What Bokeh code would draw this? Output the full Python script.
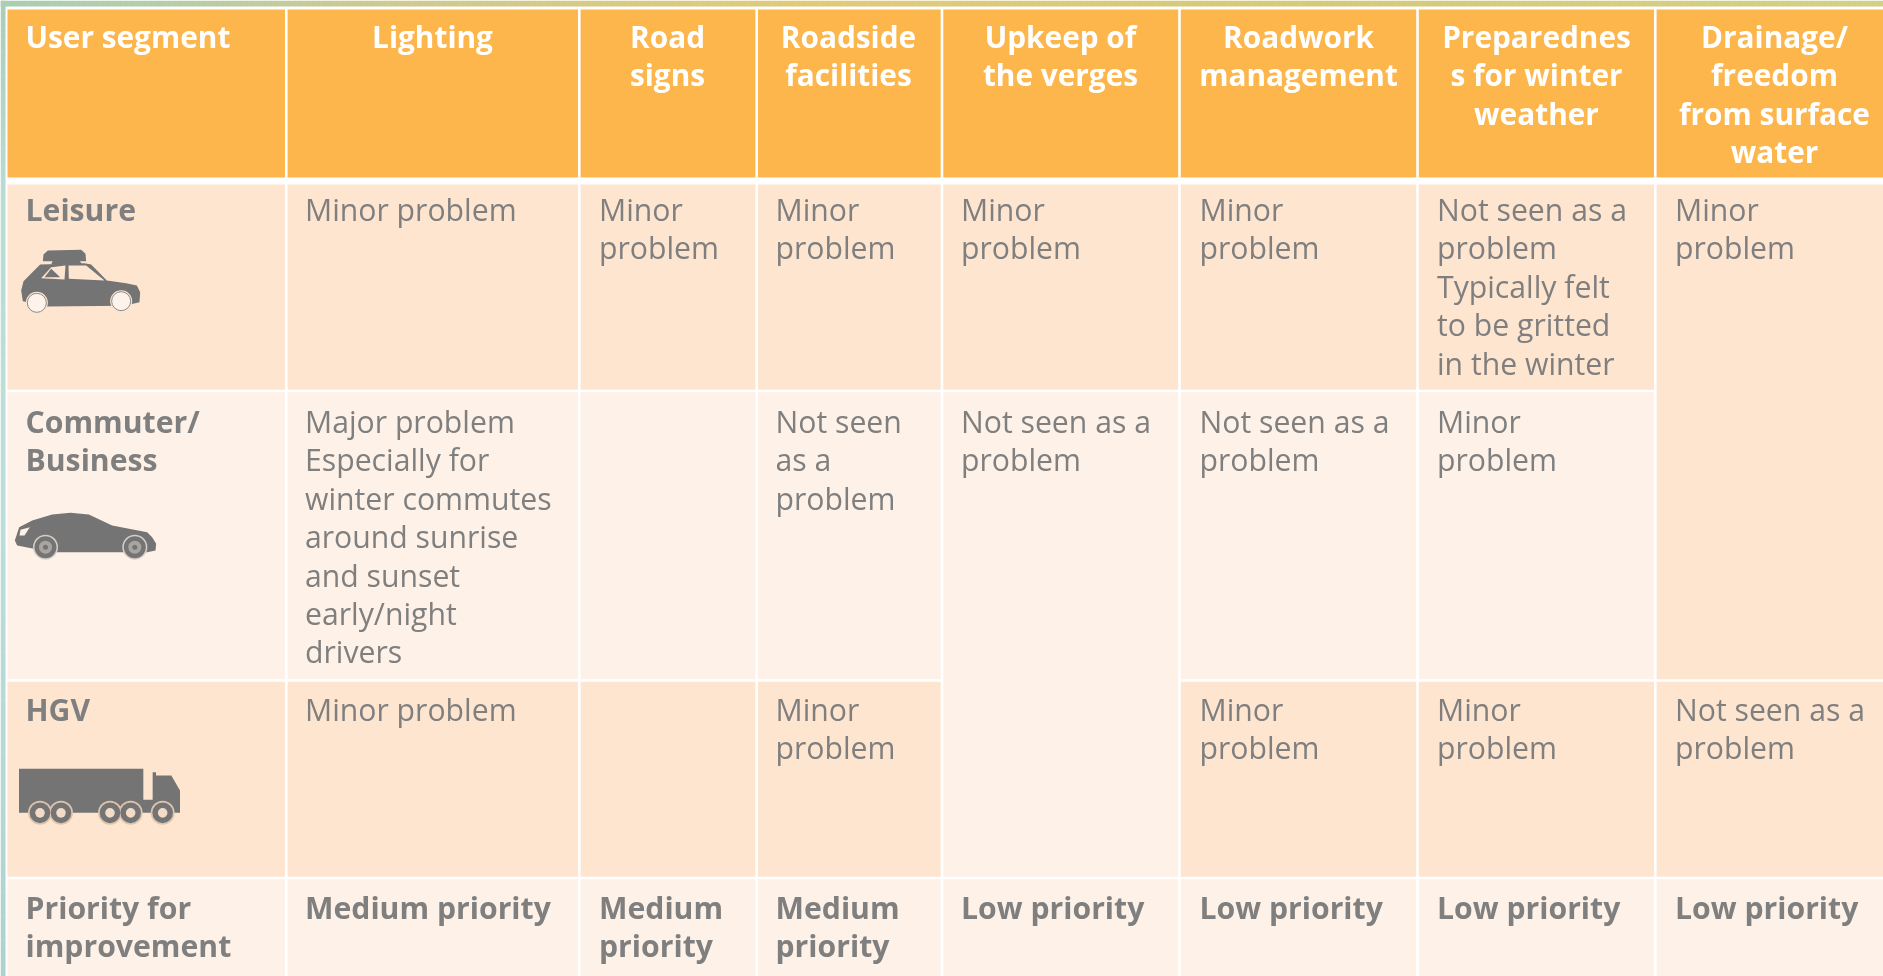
from bokeh.plotting import figure
from bokeh.models import Range1d
from bokeh.core.properties import value
from bokeh.embed import file_html
from bokeh.resources import INLINE
import numpy as np

# ---------- content ----------
headers = ["User segment", "Lighting", "Road\nsigns", "Roadside\nfacilities", "Upkeep of\nthe verges",
           "Roadwork\nmanagement", "Preparednes\ns for winter\nweather", "Drainage/\nfreedom\nfrom surface\nwater"]
segments = ["Leisure", "Commuter/\nBusiness", "HGV", "Priority for\nimprovement"]
lighting = ["Minor problem",
            "Major problem\nEspecially for\nwinter commutes\naround sunrise\nand sunset\nearly/night\ndrivers",
            "Minor problem", "Medium priority"]
road_signs = ["Minor\nproblem", "", "", "Medium\npriority"]
roadside = ["Minor\nproblem", "Not seen\nas a\nproblem", "Minor\nproblem", "Medium\npriority"]
verges = ["Minor\nproblem", "Not seen as a\nproblem", None, "Low priority"]
roadwork = ["Minor\nproblem", "Not seen as a\nproblem", "Minor\nproblem", "Low priority"]
winter = ["Not seen as a\nproblem\nTypically felt\nto be gritted\nin the winter", "Minor\nproblem", "Minor\nproblem", "Low priority"]
drainage = ["Minor\nproblem", None, "Not seen as a\nproblem", "Low priority"]
columns = [segments, lighting, road_signs, roadside, verges, roadwork, winter, drainage]

# ---------- layout (page pixels) ----------
col_edges = [7, 285.8, 578.8, 756.2, 941.5, 1179, 1417, 1654.8, 1883]
row_edges = [184, 390.5, 680, 877.5, 976]
head_top, head_bottom = 9, 177
gap = 2.6
text_x = [25, 304.5, 598.5, 775, 960.5, 1199, 1436.5, 1674.5]
head_centre = [None, 432, 667, 848, 1060, 1298, 1536, 1774]
head_base = 36
row_base = [209, 421, 709, 907]
line_h = 38.4
FONT = "Open Sans"
SIZE_R, SIZE_B, SIZE_H = "30.2px", "30.2px", "29.8px"
ORANGE, DARK, LIGHT, GREY = "#FDB64C", "#FEE5D0", "#FEF1E7", "#7F7F7F"
shades = [DARK, LIGHT, DARK, LIGHT]

p = figure(width=1883, height=976, x_range=Range1d(0, 1883), y_range=Range1d(976, 0),
           output_backend="svg", toolbar_location=None, min_border=0,
           background_fill_color="white", border_fill_color="white")
p.styles = {"position": "fixed", "left": "0px", "top": "0px"}
p.axis.visible = False
p.grid.visible = False
p.outline_line_color = None

# background strips
def strip(stops_pos, stops_rgb, horizontal):
    pos = np.arange(0, max(stops_pos), 6.0)
    rgb = [np.interp(pos, stops_pos, [c[i] for c in stops_rgb]) for i in range(3)]
    cols = ["#%02x%02x%02x" % (int(r), int(g), int(b)) for r, g, b in zip(*rgb)]
    if horizontal:
        p.quad(left=pos, right=pos + 6.5, top=0, bottom=6, fill_color=cols, line_color=None)
    else:
        p.quad(left=0, right=5, top=pos, bottom=pos + 6.5, fill_color=cols, line_color=None)

strip([0, 150, 350, 800, 1300, 1883],
      [(170, 206, 178), (180, 206, 170), (204, 202, 148), (224, 202, 122), (214, 202, 124), (212, 208, 136)], True)
strip([0, 200, 500, 800, 976],
      [(172, 206, 184), (188, 220, 210), (190, 222, 216), (182, 216, 210), (176, 210, 204)], False)

# header cells
hl = [e + gap / 2 if i else e for i, e in enumerate(col_edges[:-1])]
hr = [e - gap / 2 if i < len(col_edges) - 2 else e for i, e in enumerate(col_edges[1:])]
p.quad(left=hl, right=hr, top=head_top, bottom=head_bottom, fill_color=ORANGE, line_color=None)

# body cells (None = merged into the cell above)
L, R, T, B, C = [], [], [], [], []
for c, col in enumerate(columns):
    for r, txt in enumerate(col):
        if txt is None:
            continue
        end = r
        while end + 1 < len(col) and col[end + 1] is None:
            end += 1
        L.append(hl[c]); R.append(hr[c])
        T.append(row_edges[r] + (gap / 2 if r else 0))
        B.append(row_edges[end + 1] - gap / 2 if end < 3 else 976)
        C.append(shades[r])
p.quad(left=L, right=R, top=T, bottom=B, fill_color=C, line_color=None)

# texts
def add_lines(x, y0, txt, color, style, align="left", size=SIZE_R):
    lines = txt.split("\n")
    p.text(x=[x] * len(lines), y=[y0 + i * line_h for i in range(len(lines))], text=lines,
           text_color=color, text_font=value(FONT), text_font_style=style, text_font_size=size,
           text_align=align, text_baseline="alphabetic")

for c, h in enumerate(headers):
    if c == 0:
        add_lines(text_x[0], head_base, h, "white", "bold", size=SIZE_H)
    else:
        add_lines(head_centre[c], head_base, h, "white", "bold", "center", SIZE_H)
for c, col in enumerate(columns):
    for r, txt in enumerate(col):
        if txt:
            bold = c == 0 or r == 3
            add_lines(text_x[c], row_base[r], txt, GREY, "bold" if bold else "normal",
                      size=SIZE_B if bold else SIZE_R)

# icons: outlines traced in magnified crops, mapped to page pixels
ICON = "#747474"
def poly(points, ox, oy, s, color):
    xs = [ox + a / s for a, b in points]
    ys = [oy + b / s for a, b in points]
    p.patch(xs, ys, fill_color=color, line_color=None)
def discs(centres, ox, oy, s, rad, color, line=None):
    p.circle(x=[ox + a / s for a, b in centres], y=[oy + b / s for a, b in centres],
             radius=rad, fill_color=color, line_color=line, line_width=1)

# leisure car
ox, oy, s = 9, 240, 3
poly([(100, 62), (102, 42), (115, 30), (215, 28), (228, 40), (230, 62)], ox, oy, s, ICON)
poly([(130, 60), (210, 60), (218, 72), (125, 72)], ox, oy, s, ICON)
poly([(35, 150), (42, 122), (92, 72), (225, 68), (245, 72), (292, 120), (350, 128), (382, 135), (392, 155),
      (390, 185), (345, 196), (110, 198), (40, 182)], ox, oy, s, ICON)
poly([(95, 113), (125, 80), (168, 75), (165, 117)], ox, oy, s, DARK)
poly([(105, 110), (125, 85), (152, 110)], ox, oy, s, ICON)
poly([(177, 75), (230, 75), (285, 120), (178, 115)], ox, oy, s, DARK)
discs([(82, 187), (335, 182)], ox, oy, s, 11, DARK)
discs([(82, 187), (335, 182)], ox, oy, s, 9.5, "#FEF3EA", "#8a8a8a")

# commuter car
ox, oy, s = 0, 380, 3
poly([(43, 480), (56, 440), (95, 420), (155, 402), (210, 397), (265, 402), (335, 435), (440, 455), (455, 470),
      (467, 490), (465, 510), (440, 515), (170, 515), (100, 505), (50, 495)], ox, oy, s, ICON)
poly([(60, 448), (88, 440), (72, 465), (57, 465)], ox, oy, s, LIGHT)
discs([(135, 500), (403, 500)], ox, oy, s, 12.5, "#D6CEC6")
discs([(135, 500), (403, 500)], ox, oy, s, 11, ICON)
discs([(135, 500), (403, 500)], ox, oy, s, 6.5, "#A8A4A0")
discs([(135, 500), (403, 500)], ox, oy, s, 2.5, ICON)

# truck
ox, oy, s = -0.5, 680, 3
poly([(57, 265), (430, 265), (430, 358), (458, 358), (458, 275), (468, 275), (468, 285), (514, 285), (540, 330),
      (540, 397), (57, 397)], ox, oy, s, ICON)
wheels = [(120, 397), (183, 397), (330, 397), (392, 397), (488, 397)]
discs(wheels, ox, oy, s, 12, "#DCC4AE")
discs(wheels, ox, oy, s, 10.3, ICON)
discs(wheels, ox, oy, s, 4.8, "#F2DCC8")

open("out.html", "w").write(file_html(p, INLINE))
